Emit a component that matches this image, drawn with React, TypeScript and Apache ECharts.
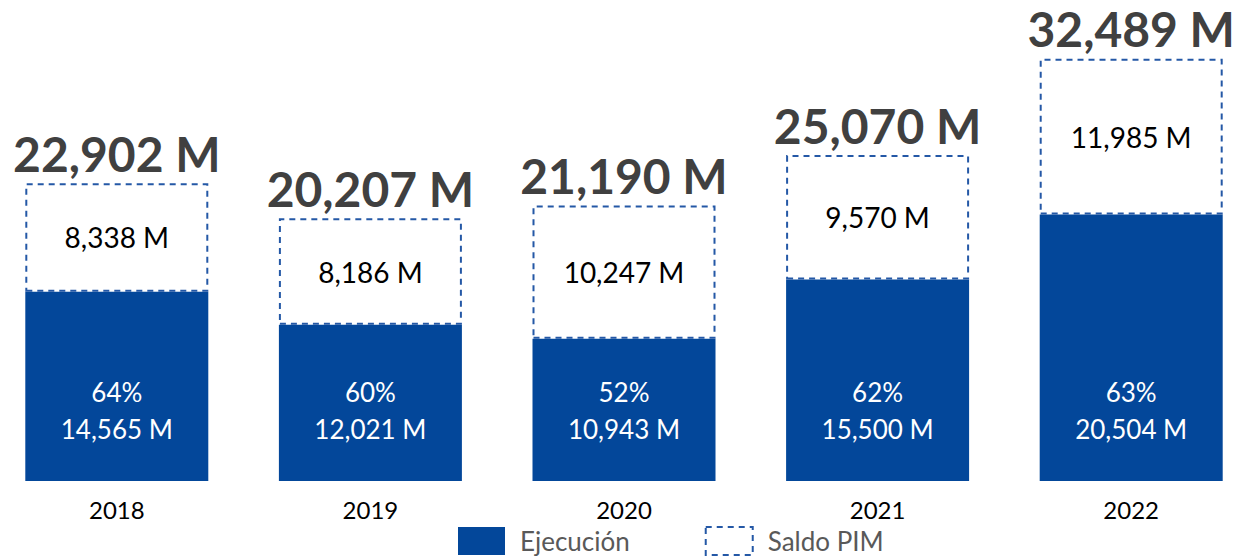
import React, { useEffect, useRef } from "react";
import * as echarts from "echarts";

const years = ["2018", "2019", "2020", "2021", "2022"];
const ejecucion = [14565, 12021, 10943, 15500, 20504];
const saldo = [8338, 8186, 10247, 9570, 11985];
const totals = [22902, 20207, 21190, 25070, 32489];
const pct = [64, 60, 52, 62, 63];

const FONT = "Lato, 'Open Sans', sans-serif";
const BLUE = "#03479A";
const DASH = "#2458A6";

const fmt = (v: number) => v.toLocaleString("en-US") + " M";

export default function App() {
  const ref = useRef<HTMLDivElement>(null);
  useEffect(() => {
    if (!ref.current) return;
    const chart = echarts.init(ref.current, undefined, { renderer: "svg" });
    chart.setOption({
      animation: false,
      backgroundColor: "#ffffff",
      textStyle: { fontFamily: FONT },
      grid: { left: 0, right: 0, top: 0, bottom: 77, containLabel: false },
      xAxis: {
        type: "category",
        data: years,
        axisLine: { show: false },
        axisTick: { show: false },
        axisLabel: { fontSize: 24, color: "#000", margin: 16, fontFamily: FONT },
      },
      yAxis: { type: "value", min: 0, max: 37000, show: false, splitLine: { show: false } },
      legend: {
        data: [
          { name: "Ejecución", itemStyle: { color: BLUE } },
          {
            name: "Saldo PIM",
            itemStyle: { color: "#fff", borderColor: DASH, borderWidth: 2, borderType: [6, 5] },
          },
        ],
        left: 463,
        bottom: -3,
        icon: "rect",
        itemWidth: 47,
        itemHeight: 28,
        itemGap: 75,
        textStyle: { fontSize: 26, color: "#595959", fontFamily: FONT, padding: [0, 0, 0, 10] },
      },
      series: [
        {
          name: "Ejecución",
          type: "bar",
          stack: "t",
          barWidth: 183,
          data: ejecucion,
          itemStyle: { color: BLUE },
          label: {
            show: true,
            position: "insideBottom",
            distance: 34,
            color: "#fff",
            fontSize: 26,
            lineHeight: 37,
            fontFamily: FONT,
            formatter: (p: any) => pct[p.dataIndex] + "%\n" + fmt(p.value),
          },
        },
        {
          name: "Saldo PIM",
          type: "bar",
          stack: "t",
          barWidth: 183,
          data: saldo,
          itemStyle: { color: "rgba(255,255,255,0)", borderColor: DASH, borderWidth: 2, borderType: [6, 5] },
          label: {
            show: true,
            position: "inside",
            color: "#000",
            fontSize: 28,
            fontFamily: FONT,
            formatter: (p: any) => fmt(p.value),
          },
        },
        {
          name: "Total",
          type: "bar",
          barWidth: 183,
          barGap: "-100%",
          data: totals,
          silent: true,
          itemStyle: { color: "rgba(0,0,0,0)" },
          label: {
            show: true,
            position: "top",
            distance: 6,
            color: "#404040",
            fontSize: 48,
            fontWeight: "bold",
            fontFamily: FONT,
            formatter: (p: any) => fmt(p.value),
          },
        },
      ],
    });
    return () => chart.dispose();
  }, []);
  return (
    <div
      ref={ref}
      style={{ position: "absolute", left: -10, top: 0, width: 1268, height: 558 }}
    />
  );
}
